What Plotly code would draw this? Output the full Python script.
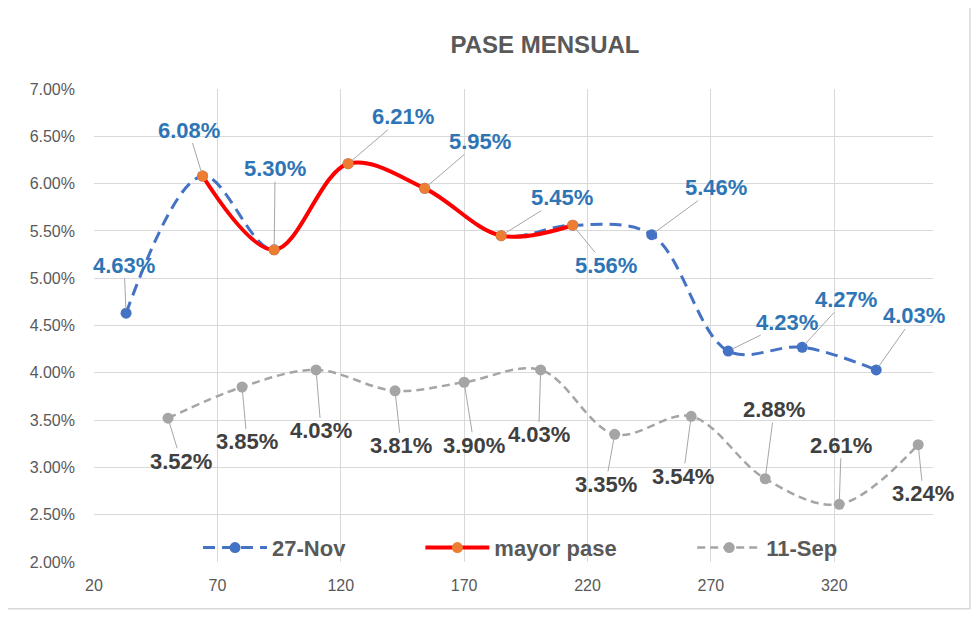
import plotly.graph_objects as go

# Datos (x = dias, y = pase en %)
dias_nov = [33, 64, 93, 123, 154, 185, 214, 246, 277, 307, 337]
pase_nov = [4.63, 6.08, 5.30, 6.21, 5.95, 5.45, 5.56, 5.46, 4.23, 4.27, 4.03]

dias_mayor = [64, 93, 123, 154, 185, 214]
pase_mayor = [6.08, 5.30, 6.21, 5.95, 5.45, 5.56]

dias_sep = [50, 80, 110, 142, 170, 201, 231, 262, 292, 322, 354]
pase_sep = [3.52, 3.85, 4.03, 3.81, 3.90, 4.03, 3.35, 3.54, 2.88, 2.61, 3.24]

# desplazamiento (px) de cada etiqueta respecto a su punto
off_nov = [(-2, -48), (-14, -46), (1, -81), (55, -47), (55, -47), (61, -38),
           (33, 40), (64, -47), (59, -29), (44, -48), (38, -54)]
off_sep = [(13, 43), (5, 55), (5, 61), (6, 55), (10, 63), (-2, 65),
           (-9, 50), (-8, 60), (9, -69), (2, -59), (5, 49)]

FONT = "Liberation Sans"
AZUL = "#4472C4"
GRIS = "#A5A5A5"

fig = go.Figure()

fig.add_trace(go.Scatter(
    x=dias_nov, y=pase_nov, name="<b>27-Nov</b>", mode="lines+markers",
    line=dict(color=AZUL, width=3, dash="12px,7px", shape="spline", smoothing=1),
    marker=dict(color=AZUL, size=11), legend="legend", showlegend=True))

fig.add_trace(go.Scatter(
    x=dias_mayor, y=pase_mayor, name="<b>mayor pase</b>", mode="lines+markers",
    line=dict(color="#FF0000", width=4, shape="spline", smoothing=1),
    marker=dict(color="#ED7D31", size=11), legend="legend2", showlegend=True))

fig.add_trace(go.Scatter(
    x=dias_sep, y=pase_sep, name="<b>11-Sep</b>", mode="lines+markers",
    line=dict(color=GRIS, width=2.5, dash="8px,5px", shape="spline", smoothing=1),
    marker=dict(color=GRIS, size=11), legend="legend3", showlegend=True))

# etiquetas de datos con lineas guia
for x, y, (dx, dy) in zip(dias_nov, pase_nov, off_nov):
    fig.add_annotation(x=x, y=y, ax=dx, ay=dy, text=f"<b>{y:.2f}%</b>",
                       showarrow=True, arrowhead=0, arrowwidth=1, arrowcolor="#A6A6A6",
                       standoff=4, font=dict(family=FONT, size=22, color="#2E75B6"),
                       borderpad=0)
for x, y, (dx, dy) in zip(dias_sep, pase_sep, off_sep):
    fig.add_annotation(x=x, y=y, ax=dx, ay=dy, text=f"<b>{y:.2f}%</b>",
                       showarrow=True, arrowhead=0, arrowwidth=1, arrowcolor="#A6A6A6",
                       standoff=4, font=dict(family=FONT, size=22, color="#404040"),
                       borderpad=0)

# borde del area del grafico
fig.add_shape(type="rect", xref="paper", yref="paper",
              x0=-0.105, x1=1.044, y0=-0.099, y1=1.178,
              line=dict(color="#D9D9D9", width=1.5), layer="below")

leg = dict(orientation="h", yanchor="middle", y=0.03, xanchor="left",
           bgcolor="rgba(0,0,0,0)", itemwidth=64,
           font=dict(family=FONT, size=22, color="#595959"))

fig.update_layout(
    width=980, height=618,
    margin=dict(l=86, r=55, t=81, b=64),
    paper_bgcolor="white", plot_bgcolor="white",
    showlegend=True,
    title=dict(text="<b>PASE MENSUAL</b>", x=537 / 980, xanchor="center",
               y=1 - 37 / 618, yanchor="middle",
               font=dict(family=FONT, size=24, color="#595959")),
    legend=dict(leg, x=0.124),
    legend2=dict(leg, x=0.389),
    legend3=dict(leg, x=0.713),
    hovermode=False,
)

fig.update_xaxes(range=[20, 360], tick0=20, dtick=50, showgrid=True,
                 gridcolor="#D9D9D9", gridwidth=1, zeroline=False, showline=False,
                 ticklabelstandoff=12,
                 tickfont=dict(family=FONT, size=16, color="#595959"))
fig.update_yaxes(range=[2, 7], dtick=0.5, tickformat=".2f", ticksuffix="%",
                 showgrid=True, gridcolor="#D9D9D9", gridwidth=1, zeroline=False,
                 showline=False, ticklabelstandoff=18,
                 tickfont=dict(family=FONT, size=16, color="#595959"))

fig.write_html("out.html")
